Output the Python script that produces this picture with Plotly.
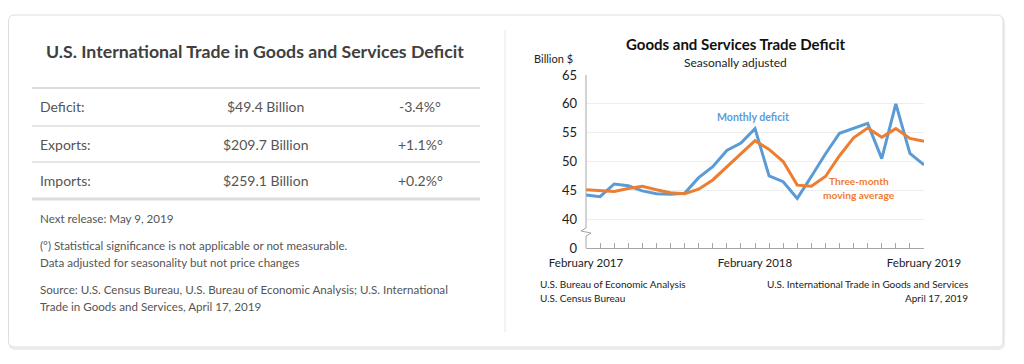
import plotly.graph_objects as go

# The page body has an 8px margin, so the figure is sized to fit the window
OFF = 8
W, H = 1024 - OFF, 364 - OFF

# ---------------- data ----------------
months = list(range(25))  # Feb 2017 .. Feb 2019
month_labels = ["February 2017"] + [""] * 11 + ["February 2018"] + [""] * 11 + ["February 2019"]
monthly_deficit = [44.2, 43.9, 46.1, 45.8, 44.9, 44.4, 44.3, 44.5, 47.2, 49.1, 51.9, 53.2, 55.7,
                   47.5, 46.5, 43.6, 47.4, 51.3, 54.9, 55.8, 56.6, 50.5, 60.0, 51.4, 49.4]
three_month_avg = [45.1, 45.0, 44.8, 45.3, 45.7, 45.1, 44.6, 44.4, 45.2, 46.8, 49.1, 51.4, 53.6,
                   52.1, 50.0, 45.9, 45.7, 47.4, 51.0, 54.1, 55.8, 54.2, 55.7, 54.0, 53.5]
y_tickvals = [35, 40, 45, 50, 55, 60, 65]
y_ticktext = ["0", "40", "45", "50", "55", "60", "65"]

table_labels = ["Deficit:", "Exports:", "Imports:"]
table_values = ["$49.4 Billion", "$209.7 Billion", "$259.1 Billion"]
table_changes = ["-3.4%°", "+1.1%°", "+0.2%°"]

BLUE = "#5b9bd5"
ORANGE = "#ed7d31"


def px(x):
    return (x - OFF) / W


def py(y):
    return 1 - (y - OFF) / H


fig = go.Figure()
fig.add_trace(go.Scatter(x=months, y=monthly_deficit, mode="lines",
                         line=dict(color=BLUE, width=3), hoverinfo="skip"))
fig.add_trace(go.Scatter(x=months, y=three_month_avg, mode="lines",
                         line=dict(color=ORANGE, width=3), hoverinfo="skip"))

shapes = []
ann = []


def text(t, x, y, xa="center", size=12, color="#222222", family="Lato"):
    ann.append(dict(text=t, x=px(x), y=py(y), xref="paper", yref="paper", xanchor=xa, yanchor="middle",
                    showarrow=False, borderpad=0, borderwidth=0,
                    font=dict(family=family, size=size, color=color)))


# card with rounded corners
r = 6
rx, ry = r / W, r / H


def rounded(a0, b0, a1, b1):
    return (f"M {a0+rx},{b0} L {a1-rx},{b0} Q {a1},{b0} {a1},{b0-ry} "
            f"L {a1},{b1+ry} Q {a1},{b1} {a1-rx},{b1} L {a0+rx},{b1} "
            f"Q {a0},{b1} {a0},{b1+ry} L {a0},{b0-ry} Q {a0},{b0} {a0+rx},{b0} Z")


shapes.append(dict(type="path", path=rounded(px(9.5), py(17), px(1004), py(349)),
                   xref="paper", yref="paper", line=dict(color="#ececec", width=2),
                   fillcolor="#f4f4f4", layer="below"))
shapes.append(dict(type="path", path=rounded(px(8.5), py(15), px(1003), py(347)), xref="paper", yref="paper",
                   line=dict(color="#dedede", width=1), fillcolor="white", layer="below"))

# divider
shapes.append(dict(type="line", xref="paper", yref="paper", x0=px(505), x1=px(505), y0=py(30), y1=py(332),
                   line=dict(color="#e6e6e6", width=1)))

# left panel
text("<b>U.S. International Trade in Goods and Services Deficit</b>", 255, 52, size=17.7, color="#404040")
for yy, wdt in [(88, 2), (126, 1.5), (162, 1.5), (199, 3)]:
    shapes.append(dict(type="line", xref="paper", yref="paper", x0=px(32), x1=px(480), y0=py(yy), y1=py(yy),
                       line=dict(color="#dcdcdc", width=wdt)))
for i, yy in enumerate([107, 144, 180]):
    text(table_labels[i], 40, yy, xa="left", size=14, color="#555555")
    text(table_values[i], 265, yy, size=14, color="#555555")
    text(table_changes[i], 420, yy, size=14, color="#555555")
foot = [("Next release: May 9, 2019", 218),
        ("(°) Statistical significance is not applicable or not measurable.", 245),
        ("Data adjusted for seasonality but not price changes", 262),
        ("Source: U.S. Census Bureau, U.S. Bureau of Economic Analysis; U.S. International", 289),
        ("Trade in Goods and Services, April 17, 2019", 306)]
for t, yy in foot:
    text(t, 40, yy, xa="left", size=11.6, color="#555555")

# right chart texts
text("<b>Goods and Services Trade Deficit</b>", 735, 44, size=15, color="#111111")
text("Seasonally adjusted", 735, 62, size=12)
text("Billion $", 553, 58, size=11)
text("<b>Monthly deficit</b>", 753, 117, size=10.6, color=BLUE)
text("<b>Three-month</b>", 859, 181, size=10.2, color=ORANGE)
text("<b>moving average</b>", 859, 195, size=10.2, color=ORANGE)
text("U.S. Bureau of Economic Analysis", 540, 284, xa="left", size=10)
text("U.S. Census Bureau", 540, 298, xa="left", size=10)
text("U.S. International Trade in Goods and Services", 968, 284, xa="right", size=10)
text("April 17, 2019", 968, 298, xa="right", size=10)

# y axis line with break
AX = "#a6a6a6"
shapes.append(dict(type="line", xref="paper", yref="paper", x0=px(586), x1=px(586), y0=py(75), y1=py(228),
                   line=dict(color=AX, width=1)))
shapes.append(dict(type="line", xref="paper", yref="paper", x0=px(586), x1=px(586), y0=py(236), y1=py(248),
                   line=dict(color=AX, width=1)))
zig = (f"M {px(586)},{py(228)} L {px(581)},{py(231)} L {px(591)},{py(233)} L {px(586)},{py(236)}")
shapes.append(dict(type="path", path=zig, xref="paper", yref="paper", line=dict(color=AX, width=1)))

fig.update_layout(
    width=W, height=H, margin=dict(l=0, r=0, t=0, b=0, autoexpand=False),
    paper_bgcolor="white", plot_bgcolor="rgba(0,0,0,0)",
    showlegend=False, shapes=shapes, annotations=ann,
    xaxis=dict(domain=[px(586), px(924)], range=[0, 24], tickvals=months, ticktext=month_labels,
               ticks="inside", ticklen=5, tickcolor=AX, showline=True, linecolor=AX, linewidth=1,
               showgrid=False, zeroline=False, ticklabelstandoff=4,
               tickfont=dict(family="Lato", size=11.5, color="#222222"), fixedrange=True),
    yaxis=dict(domain=[py(248), py(75)], range=[35, 65], tickvals=y_tickvals, ticktext=y_ticktext,
               showgrid=True, gridcolor="#eeeeee", gridwidth=1, zeroline=False, showline=False,
               ticks="", ticklabelstandoff=8,
               tickfont=dict(family="Lato", size=13, color="#222222"), fixedrange=True),
)

fig.write_html("out.html")
